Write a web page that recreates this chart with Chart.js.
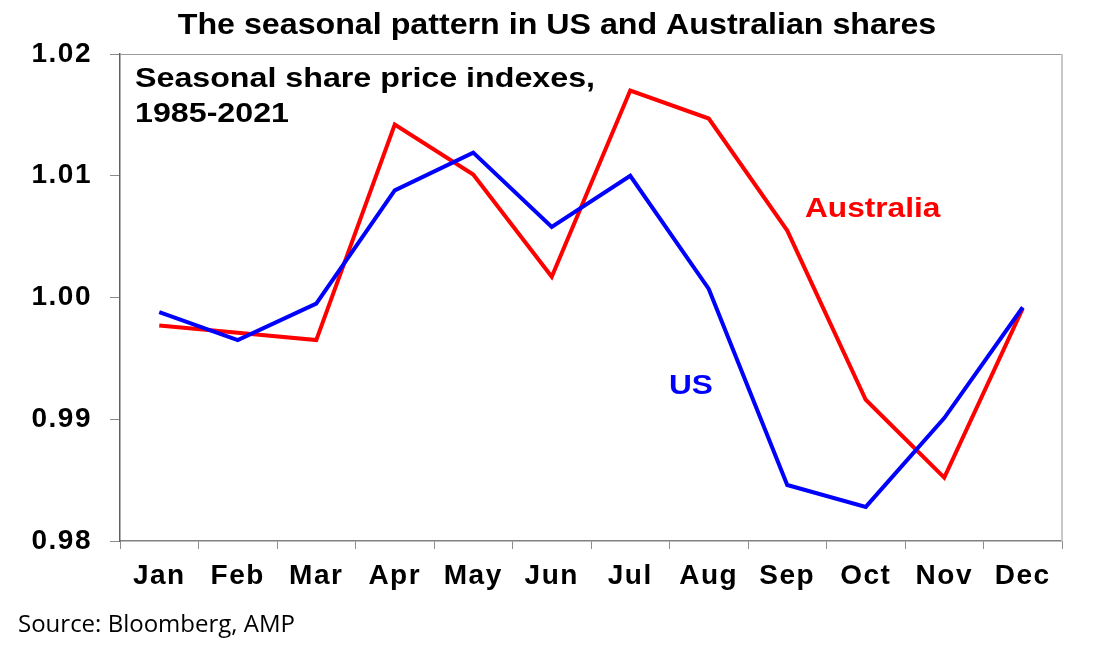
<!DOCTYPE html>
<html lang="en">

<head>
  <meta charset="UTF-8">
  <title>Seasonal pattern in US and Australian shares</title>
  <style>
    html, body { margin: 0; padding: 0; background: #fff; }
    .grafico { width: 1098px; height: 658px; }
  </style>
</head>

<body>
  <div class="grafico">
    <canvas id="myChart" width="1098" height="658"></canvas>
  </div>

  <script src="https://cdn.jsdelivr.net/npm/chart.js"></script>
  <script>
    // values
    var meses = ['Jan', 'Feb', 'Mar', 'Apr', 'May', 'Jun', 'Jul', 'Aug', 'Sep', 'Oct', 'Nov', 'Dec'];
    var valoresAustralia = [0.9977, 0.9971, 0.9965, 1.0142, 1.0101, 1.0017, 1.0170, 1.0147, 1.0055, 0.9916, 0.9852, 0.9991];
    var valoresUS = [0.9988, 0.9965, 0.9995, 1.0088, 1.0119, 1.0058, 1.0100, 1.0007, 0.9846, 0.9828, 0.9901, 0.9992];
    var ticksY = [0.98, 0.99, 1.00, 1.01, 1.02];

    var fonte = '"Liberation Sans", Arial, sans-serif';

    // text slightly stretched sideways like the original
    function texto(ctx, str, x, y, size, cor, esticar, centro) {
      ctx.save();
      ctx.font = 'bold ' + size + 'px ' + fonte;
      ctx.fillStyle = cor;
      ctx.textBaseline = 'alphabetic';
      ctx.textAlign = 'left';
      if (centro) {
        x = x - ctx.measureText(str).width * esticar / 2;
      }
      ctx.translate(x, y);
      ctx.scale(esticar, 1);
      ctx.fillText(str, 0, 0);
      ctx.restore();
    }

    const anotacoes = {
      id: 'anotacoes',
      beforeDraw(chart) {
        // the axis labels of the original are a bit wider
        chart.ctx.letterSpacing = '1.5px';
      },
      afterDraw(chart) {
        const ctx = chart.ctx;
        const area = chart.chartArea;
        ctx.letterSpacing = '0px';

        // top and right frame of the plot
        ctx.save();
        ctx.lineWidth = 1;
        ctx.strokeStyle = '#9a9a9a';
        ctx.beginPath();
        ctx.moveTo(area.left, area.top + 0.5);
        ctx.lineTo(area.right, area.top + 0.5);
        ctx.stroke();
        ctx.strokeStyle = '#c8c8c8';
        ctx.lineWidth = 2;
        ctx.beginPath();
        ctx.moveTo(area.right, area.top);
        ctx.lineTo(area.right, area.bottom);
        ctx.stroke();
        ctx.restore();

        texto(ctx, 'The seasonal pattern in US and Australian shares', 557, 34, 29, '#000', 1.11, true);

        texto(ctx, 'Seasonal share price indexes,', 135, 87, 28, '#000', 1.15);
        texto(ctx, '1985-2021', 135, 122, 28, '#000', 1.15);

        texto(ctx, 'Australia', 805, 217, 28, '#ff0000', 1.13);
        texto(ctx, 'US', 669, 394, 28, '#0000ff', 1.13);

        ctx.save();
        ctx.font = '24px "Open Sans", sans-serif';
        ctx.fillStyle = '#000';
        ctx.textAlign = 'left';
        ctx.textBaseline = 'alphabetic';
        ctx.fillText('Source: Bloomberg, AMP', 18, 632);
        ctx.restore();
      }
    };

    const ctx = document.getElementById('myChart');

    new Chart(ctx, {
      type: 'line',
      data: {
        labels: meses,
        datasets: [{
          label: 'US',
          data: valoresUS,
          borderColor: '#0000ff',
          borderWidth: 4,
          pointRadius: 0,
          tension: 0,
          fill: false
        },
        {
          label: 'Australia',
          data: valoresAustralia,
          borderColor: '#ff0000',
          borderWidth: 4,
          pointRadius: 0,
          tension: 0,
          fill: false
        }]
      },
      options: {
        responsive: false,
        animation: false,
        layout: { padding: { left: 0, right: 36, top: 54, bottom: 0 } },
        plugins: {
          legend: { display: false },
          tooltip: { enabled: false }
        },
        scales: {
          x: {
            offset: true,
            afterFit(scale) { scale.height = 117; },
            grid: {
              offset: true,
              drawOnChartArea: false,
              tickLength: 8,
              color: '#8c8c8c'
            },
            border: { color: '#808080', width: 1.5 },
            ticks: {
              padding: 10,
              color: '#000',
              font: { family: fonte, size: 28, weight: 'bold' }
            }
          },
          y: {
            min: 0.98,
            max: 1.02,
            afterFit(scale) { scale.width = 120; },
            afterBuildTicks(scale) {
              scale.ticks = ticksY.map(v => ({ value: v }));
            },
            grid: {
              drawOnChartArea: false,
              tickLength: 10,
              color: '#8c8c8c'
            },
            border: { color: '#606060', width: 1.5 },
            ticks: {
              padding: 18,
              color: '#000',
              font: { family: fonte, size: 28, weight: 'bold' },
              callback: v => v.toFixed(2)
            }
          }
        }
      },
      plugins: [anotacoes]
    });
  </script>
</body>

</html>
